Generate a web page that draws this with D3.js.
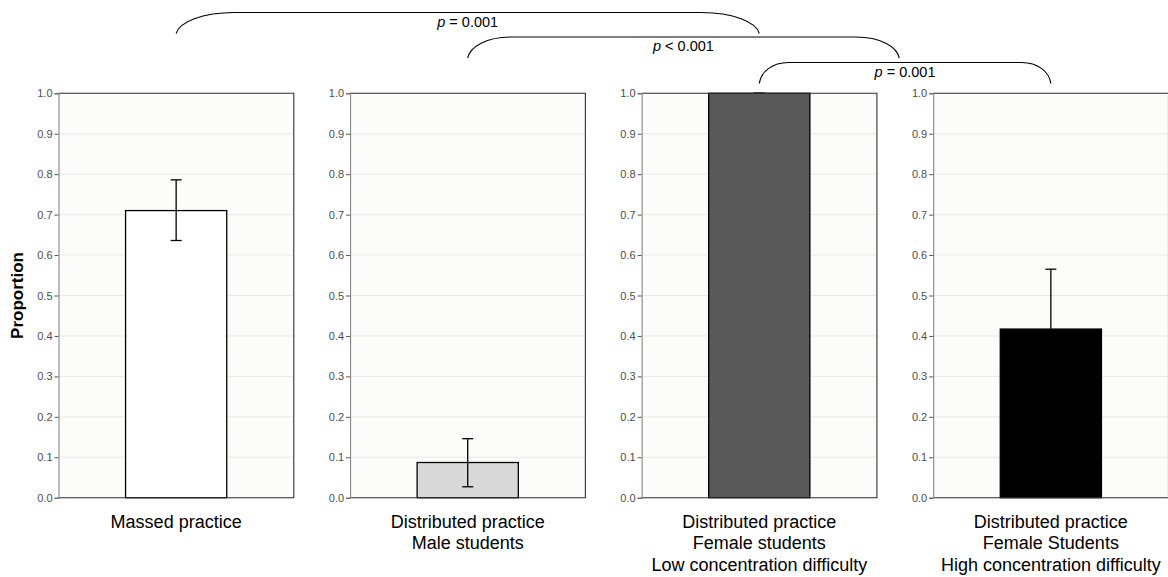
<!DOCTYPE html>
<html>
<head>
<meta charset="utf-8">
<script src="https://cdn.jsdelivr.net/npm/d3@7"></script>
<style>
  html, body { margin: 0; padding: 0; background: #ffffff; }
  svg { display: block; font-family: Arial, "Liberation Sans", sans-serif; }
</style>
</head>
<body>
<svg id="chart" width="1168" height="577"></svg>
<script>
// ---- data ----
const categories = [
  ["Massed practice"],
  ["Distributed practice", "Male students"],
  ["Distributed practice", "Female students", "Low concentration difficulty"],
  ["Distributed practice", "Female Students", "High concentration difficulty"]
];
const proportions = [0.710, 0.087, 1.000, 0.417];
const lowerCI     = [0.636, 0.027, 1.000, 0.268];
const upperCI     = [0.786, 0.146, 1.000, 0.565];
const barFills    = ["#ffffff", "#d9d9d9", "#595959", "#000000"];
const yTicks      = [0, 0.1, 0.2, 0.3, 0.4, 0.5, 0.6, 0.7, 0.8, 0.9, 1.0];
const compFromIdx = [0, 1, 2];
const compToIdx   = [2, 2.48, 3];
const compLabels  = [" = 0.001", " < 0.001", " = 0.001"];

// ---- layout ----
const svg = d3.select("#chart");
const plotTop = 93.3, plotBottom = 497.7;

const panelScale = d3.scaleBand()
  .domain(d3.range(categories.length))
  .range([58.5, 1168.5])
  .paddingInner(0.193)
  .paddingOuter(0);

const y = d3.scaleLinear().domain([0, 1]).range([plotBottom, plotTop]);

const centerOf = i => panelScale(0) + panelScale.bandwidth() / 2 + i * panelScale.step();

// y title
svg.append("text")
  .attr("transform", `translate(23,${(plotTop + plotBottom) / 2}) rotate(-90)`)
  .attr("text-anchor", "middle")
  .attr("font-weight", "bold")
  .attr("font-size", 17)
  .attr("fill", "#000")
  .text("Proportion");

categories.forEach((cat, i) => {
  const x0 = panelScale(i);
  const bw = panelScale.bandwidth();
  const g = svg.append("g");

  const xb = d3.scaleBand().domain([0]).range([x0, x0 + bw]).paddingInner(0.57).paddingOuter(0.285);

  // panel background
  g.append("rect")
    .attr("x", x0).attr("y", plotTop)
    .attr("width", bw).attr("height", plotBottom - plotTop)
    .attr("fill", "#fcfcfb");

  // gridlines
  g.selectAll("line.grid").data(yTicks).join("line")
    .attr("class", "grid")
    .attr("x1", x0).attr("x2", x0 + bw)
    .attr("y1", d => y(d)).attr("y2", d => y(d))
    .attr("stroke", "#e9e9e9").attr("stroke-width", 1);

  // bar
  const bx = xb(0), bwid = xb.bandwidth();
  g.append("rect")
    .attr("x", bx).attr("y", y(proportions[i]))
    .attr("width", bwid).attr("height", y(0) - y(proportions[i]))
    .attr("fill", barFills[i])
    .attr("stroke", "#000").attr("stroke-width", 1.3);

  // error bar
  const cx = bx + bwid / 2;
  const ec = "#000";
  g.append("line").attr("x1", cx).attr("x2", cx)
    .attr("y1", y(lowerCI[i])).attr("y2", y(upperCI[i]))
    .attr("stroke", ec).attr("stroke-width", 1.3);
  [lowerCI[i], upperCI[i]].forEach(v => {
    g.append("line").attr("x1", cx - 5.5).attr("x2", cx + 5.5)
      .attr("y1", y(v)).attr("y2", y(v))
      .attr("stroke", ec).attr("stroke-width", 1.3);
  });

  // panel border (top/right/bottom dark)
  g.append("path")
    .attr("d", `M${x0},${plotTop}H${x0 + bw}V${plotBottom}H${x0}`)
    .attr("fill", "none").attr("stroke", "#333").attr("stroke-width", 1.1);

  // y axis
  const axis = d3.axisLeft(y).tickValues(yTicks).tickFormat(d3.format(".1f")).tickSize(4).tickPadding(2);
  const ag = svg.append("g").attr("transform", `translate(${x0},0)`).call(axis);
  ag.select(".domain").attr("stroke", "#888").attr("stroke-width", 1.1);
  ag.selectAll(".tick line").attr("stroke", "#555");
  ag.selectAll(".tick text").attr("fill", "#4d4d4d").attr("font-size", 11)
    .attr("font-family", "Arial, 'Liberation Sans', sans-serif");

  // x label
  const t = svg.append("text")
    .attr("x", x0 + bw / 2).attr("y", 528)
    .attr("text-anchor", "middle").attr("font-size", 18).attr("fill", "#000");
  cat.forEach((line, k) => {
    t.append("tspan").attr("x", x0 + bw / 2).attr("dy", k === 0 ? 0 : 21.3).text(line);
  });
});

// comparison brackets
const levelY = [12.5, 37, 62.5];
const drop = 21;
compLabels.forEach((lab, k) => {
  const xa = centerOf(compFromIdx[k]);
  const xbR = centerOf(compToIdx[k]);
  const span = xbR - xa;
  const w = span * 0.1;
  const yt = levelY[k], yb = yt + drop;
  const kk = 0.5523;
  const path = d3.path();
  path.moveTo(xa, yb);
  path.bezierCurveTo(xa + 0.05 * w, yb - kk * drop, xa + w - kk * w, yt, xa + w, yt);
  path.lineTo(xbR - w, yt);
  path.bezierCurveTo(xbR - w + kk * w, yt, xbR - 0.05 * w, yb - kk * drop, xbR, yb);
  svg.append("path").attr("d", path.toString())
    .attr("fill", "none").attr("stroke", "#000").attr("stroke-width", 1.1);

  const tx = svg.append("text")
    .attr("x", (xa + xbR) / 2).attr("y", yt + 14)
    .attr("text-anchor", "middle").attr("font-size", 14.5).attr("fill", "#000");
  tx.append("tspan").attr("font-style", "italic").text("p");
  tx.append("tspan").text(lab);
});
</script>
</body>
</html>
